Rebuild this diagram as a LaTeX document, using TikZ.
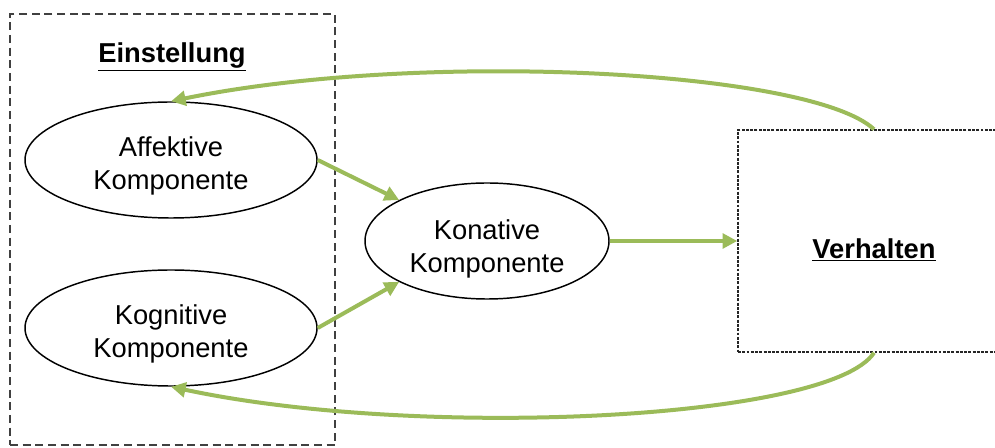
\documentclass[tikz,border=0pt]{standalone}
\usepackage{fontspec}
\setmainfont{Liberation Sans}
\usetikzlibrary{shapes.geometric,arrows.meta}
\definecolor{olive}{HTML}{9BBB59}
\begin{document}
\begin{tikzpicture}[x=0.75pt,y=-0.75pt,
  comp/.style={ellipse,draw=black,line width=1.1pt,fill=white,
    minimum width=219pt,minimum height=87pt,inner sep=0pt},
  comptext/.style={align=center,inner sep=0pt,
    font=\fontsize{20.5}{24.5}\selectfont},
  groupbox/.style={draw=black!75,line width=1.1pt,dash pattern=on 6pt off 3.5pt,inner sep=0pt},
  actbox/.style={draw=black!85,line width=1.1pt,dash pattern=on 2.2pt off 1pt,fill=white,inner sep=0pt},
  heading/.style={font=\fontsize{20.5}{24}\selectfont\bfseries},
  flow/.style={draw=olive,line width=3pt,-{Triangle[length=11pt,width=11pt]}}]
  \useasboundingbox (0,0) rectangle (995,448);

  % attitude group
  \node[groupbox,minimum width=243.75pt,minimum height=323.25pt] (einst) at (172.5,229.5) {};
  \node[heading] (einstlabel) at (172,57) {\underline{Einstellung}};

  % behaviour box (runs off the right edge)
  \node[actbox,minimum width=204pt,minimum height=166.5pt] (verh) at (874,241) {};
  \node[heading] (verhlabel) at (874,250) {\underline{Verhalten}};

  % components
  \node[comp] (aff) at (171,160) {};
  \node[comptext] (afftext) at (171,166) {Affektive\\Komponente};
  \node[comp] (kog) at (171,328) {};
  \node[comptext] (kogtext) at (171,334) {Kognitive\\Komponente};
  \node[comp,minimum width=183pt] (kon) at (487,241) {};
  \node[comptext] (kontext) at (487,249) {Konative\\Komponente};

  % arrows
  \draw[flow] (aff.east) -- (kon.155);
  \draw[flow] (kog.east) -- (kon.-155);
  \draw[flow] (kon.east) -- (verh.west);

  % feedback loops
  \draw[flow] (verh.north) .. controls (810,70) and (420,50) .. (aff.north);
  \draw[flow] (verh.south) .. controls (830,420) and (420,440) .. (kog.south);
\end{tikzpicture}
\end{document}
